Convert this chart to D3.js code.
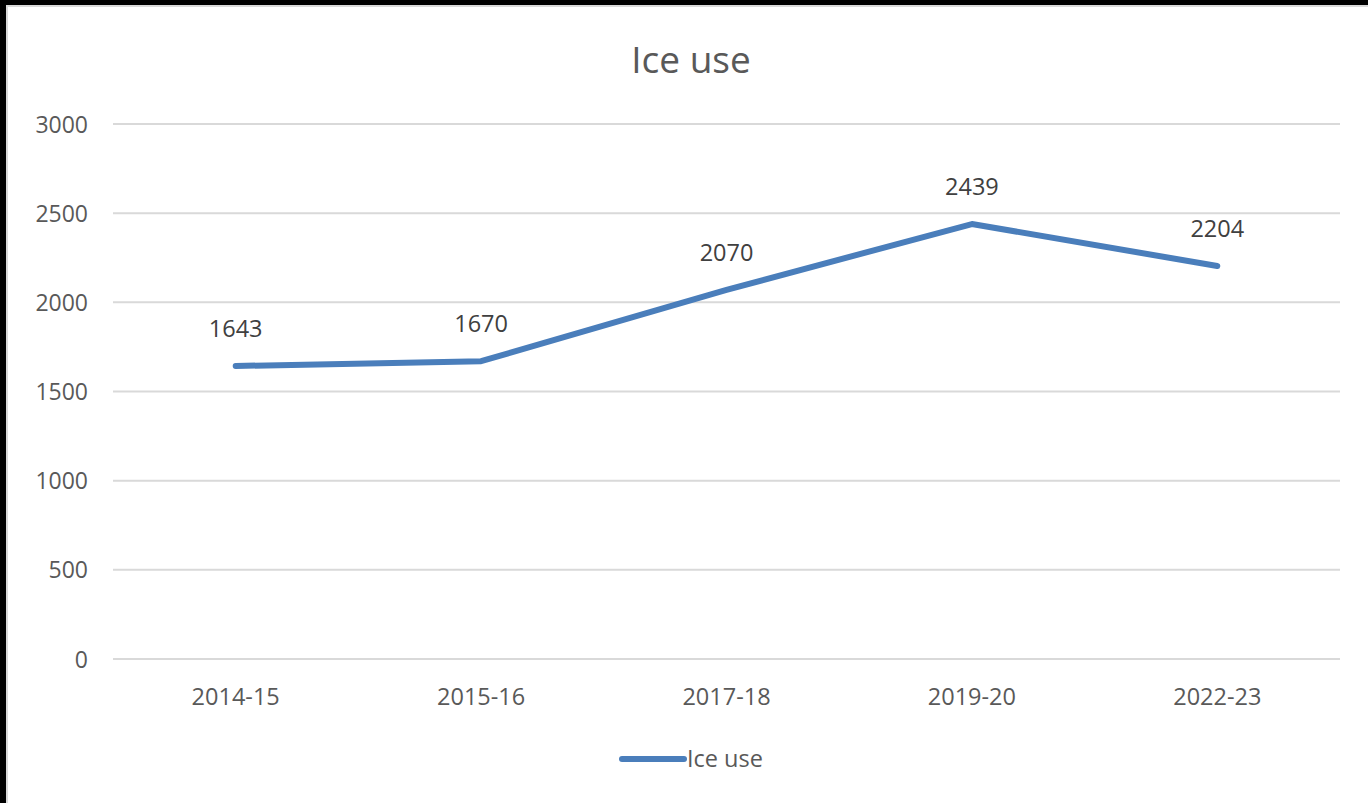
<!DOCTYPE html>
<html>
<head>
<meta charset="utf-8">
<script src="https://cdn.jsdelivr.net/npm/d3@7"></script>
<style>
  html, body { margin: 0; padding: 0; background: #000; }
  svg { display: block; }
  text { font-family: "Open Sans", "Noto Sans", sans-serif; }
</style>
</head>
<body>
<svg id="chart" width="1368" height="803"></svg>
<script>
const title = "Ice use";
const seriesName = "Ice use";
const categories = ["2014-15", "2015-16", "2017-18", "2019-20", "2022-23"];
const values = [1643, 1670, 2070, 2439, 2204];
const yTicks = [0, 500, 1000, 1500, 2000, 2500, 3000];

const W = 1368, H = 803;
const svg = d3.select("#chart");

// frame: black strip top/left, light border, white area
svg.append("rect").attr("x", 0).attr("y", 0).attr("width", W).attr("height", H).attr("fill", "#000");
svg.append("rect").attr("x", 6).attr("y", 5).attr("width", W - 6).attr("height", H - 5).attr("fill", "#d9d9d9");
svg.append("rect").attr("x", 8).attr("y", 7).attr("width", W - 8).attr("height", H - 7).attr("fill", "#fff");

const plot = { left: 113, right: 1340, top: 124, bottom: 659 };
const x = d3.scaleBand().domain(categories).range([plot.left, plot.right]);
const y = d3.scaleLinear().domain([0, 3000]).range([plot.bottom, plot.top]);

const textColor = "#595959";
const ff = '"Open Sans", "Noto Sans", sans-serif';

// gridlines
svg.append("g").selectAll("line").data(yTicks).join("line")
  .attr("x1", plot.left).attr("x2", plot.right)
  .attr("y1", d => y(d)).attr("y2", d => y(d))
  .attr("stroke", "#d9d9d9").attr("stroke-width", 2);

// y axis labels
const yAxis = d3.axisLeft(y).tickValues(yTicks).tickFormat(d3.format("d")).tickSize(0).tickPadding(0);
const gy = svg.append("g").attr("transform", `translate(88,0)`).call(yAxis);
gy.select(".domain").remove();
gy.selectAll("text").attr("fill", textColor).style("font-size", "23px")
  .style("font-family", ff).attr("dy", "0.35em");

// x axis labels
const xAxis = d3.axisBottom(x).tickSize(0).tickPadding(0);
const gx = svg.append("g").attr("transform", `translate(0,${plot.bottom})`).call(xAxis);
gx.select(".domain").remove();
gx.selectAll("text").attr("fill", textColor).style("font-size", "23.5px")
  .style("font-family", ff).attr("dy", "0").attr("y", 46);

// line
const cx = d => x(d) + x.bandwidth() / 2;
const data = categories.map((c, i) => ({ c, v: values[i] }));
const line = d3.line().x(d => cx(d.c)).y(d => y(d.v));
svg.append("path").datum(data).attr("d", line)
  .attr("fill", "none").attr("stroke", "#4a7ebb").attr("stroke-width", 6)
  .attr("stroke-linecap", "round").attr("stroke-linejoin", "round");

// data labels
svg.append("g").selectAll("text").data(data).join("text")
  .attr("x", d => cx(d.c)).attr("y", d => y(d.v) - 29)
  .attr("text-anchor", "middle").attr("fill", "#404040")
  .style("font-size", "23.5px").text(d => d.v);

// title
svg.append("text").attr("x", 691).attr("y", 73).attr("text-anchor", "middle")
  .attr("fill", textColor).style("font-size", "37px").text(title);

// legend
const lg = svg.append("g");
lg.append("line").attr("x1", 622).attr("x2", 684).attr("y1", 759).attr("y2", 759)
  .attr("stroke", "#4a7ebb").attr("stroke-width", 6).attr("stroke-linecap", "round");
lg.append("text").attr("x", 687).attr("y", 767).attr("fill", textColor)
  .style("font-size", "23.5px").text(seriesName);
</script>
</body>
</html>
